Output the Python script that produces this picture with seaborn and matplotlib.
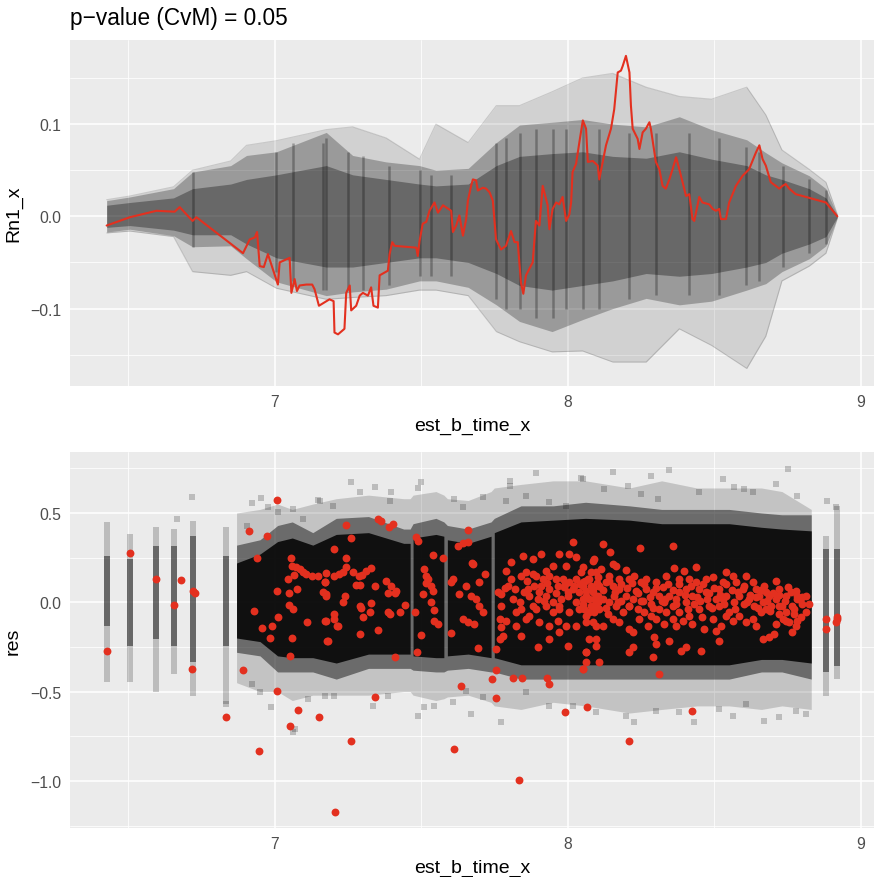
import numpy as np
import pandas as pd
import matplotlib
matplotlib.use("Agg")
import matplotlib.pyplot as plt
import seaborn as sns

# ---------------- observed cumulative residual process (top panel) ----------------
rn_time = [6.427, 6.506, 6.597, 6.659, 6.676, 6.720, 6.733, 6.892, 6.915, 6.932, 6.940, 6.949,
           6.963, 6.977, 7.011, 7.017, 7.051, 7.057, 7.068, 7.076, 7.085, 7.108, 7.128, 7.136,
           7.151, 7.187, 7.201, 7.204, 7.216, 7.238, 7.244, 7.256, 7.261, 7.278, 7.290, 7.301,
           7.318, 7.329, 7.337, 7.352, 7.358, 7.375, 7.386, 7.392, 7.401, 7.409, 7.483, 7.488,
           7.494, 7.505, 7.517, 7.528, 7.545, 7.557, 7.574, 7.602, 7.608, 7.619, 7.630, 7.642,
           7.653, 7.659, 7.670, 7.676, 7.687, 7.693, 7.710, 7.721, 7.733, 7.744, 7.755, 7.772,
           7.789, 7.806, 7.818, 7.829, 7.840, 7.848, 7.857, 7.880, 7.891, 7.903, 7.914, 7.931,
           7.937, 7.948, 7.960, 7.971, 7.982, 7.994, 8.005, 8.011, 8.016, 8.028, 8.039, 8.051,
           8.062, 8.068, 8.085, 8.102, 8.107, 8.119, 8.130, 8.147, 8.158, 8.170, 8.181, 8.187,
           8.198, 8.210, 8.215, 8.221, 8.238, 8.244, 8.255, 8.266, 8.278, 8.283, 8.300, 8.312,
           8.323, 8.334, 8.346, 8.357, 8.369, 8.380, 8.391, 8.403, 8.414, 8.425, 8.431, 8.448,
           8.459, 8.482, 8.494, 8.505, 8.516, 8.522, 8.539, 8.550, 8.573, 8.596, 8.618, 8.641,
           8.653, 8.664, 8.675, 8.692, 8.709, 8.721, 8.732, 8.743, 8.755, 8.777, 8.812, 8.880,
           8.919]
rn_value = [-0.010, -0.001, 0.006, 0.005, 0.010, -0.005, -0.001, -0.040, -0.025, -0.023, -0.017, -0.054,
            -0.055, -0.041, -0.074, -0.050, -0.045, -0.083, -0.068, -0.081, -0.075, -0.074, -0.074, -0.079,
            -0.097, -0.090, -0.092, -0.126, -0.128, -0.122, -0.083, -0.075, -0.102, -0.097, -0.086, -0.083,
            -0.086, -0.077, -0.097, -0.099, -0.064, -0.061, -0.059, -0.041, -0.028, -0.032, -0.034, -0.043,
            -0.027, -0.008, -0.006, 0.006, 0.015, 0.004, 0.012, 0.006, -0.017, -0.010, 0.001, -0.021,
            -0.003, 0.017, 0.033, 0.040, 0.039, 0.028, 0.031, 0.030, 0.026, 0.017, -0.025, -0.036,
            -0.032, -0.016, -0.028, -0.028, -0.072, -0.084, -0.064, -0.050, -0.005, -0.010, 0.033, 0.012,
            -0.014, 0.008, 0.015, 0.013, 0.021, -0.005, 0.002, 0.015, 0.048, 0.057, 0.080, 0.104,
            0.095, 0.059, 0.060, 0.055, 0.040, 0.059, 0.077, 0.095, 0.116, 0.156, 0.158, 0.163,
            0.174, 0.156, 0.120, 0.095, 0.084, 0.073, 0.091, 0.095, 0.102, 0.095, 0.059, 0.051,
            0.033, 0.030, 0.040, 0.051, 0.064, 0.051, 0.037, 0.022, 0.024, -0.003, -0.005, 0.021,
            0.015, 0.013, 0.008, 0.006, 0.008, -0.003, -0.003, 0.015, 0.033, 0.044, 0.051, 0.069,
            0.077, 0.062, 0.055, 0.037, 0.033, 0.030, 0.033, 0.035, 0.030, 0.024, 0.021, 0.015,
            0.000]

# ---------------- spread of the simulated processes (top panel) ----------------
sim_time = [6.427, 6.506, 6.655, 6.720, 6.850, 6.904, 7.006, 7.176, 7.266, 7.380, 7.494, 7.550,
            7.660, 7.756, 7.835, 7.946, 8.050, 8.153, 8.267, 8.380, 8.490, 8.610, 8.675, 8.730,
            8.823, 8.880, 8.919]
sim_outer_hi = [0.018, 0.022, 0.032, 0.050, 0.060, 0.077, 0.082, 0.094, 0.097, 0.085, 0.062, 0.100,
                0.080, 0.120, 0.120, 0.135, 0.150, 0.155, 0.140, 0.130, 0.127, 0.140, 0.110, 0.072,
                0.051, 0.037, 0.002]
sim_outer_lo = [-0.018, -0.016, -0.022, -0.060, -0.064, -0.060, -0.078, -0.090, -0.088, -0.086, -0.080, -0.080,
                -0.086, -0.125, -0.136, -0.147, -0.146, -0.158, -0.158, -0.122, -0.140, -0.165, -0.130, -0.070,
                -0.054, -0.040, -0.002]
sim_core_hi = [0.017, 0.021, 0.030, 0.048, 0.055, 0.066, 0.070, 0.091, 0.066, 0.059, 0.055, 0.050,
               0.052, 0.080, 0.099, 0.102, 0.105, 0.100, 0.097, 0.108, 0.094, 0.083, 0.069, 0.058,
               0.044, 0.030, 0.001]
sim_core_lo = [-0.017, -0.014, -0.021, -0.033, -0.032, -0.046, -0.071, -0.086, -0.082, -0.079, -0.070, -0.070,
               -0.077, -0.096, -0.114, -0.125, -0.112, -0.100, -0.089, -0.096, -0.092, -0.080, -0.073, -0.060,
               -0.046, -0.032, -0.001]
sim_inner_hi = [0.012, 0.015, 0.020, 0.030, 0.035, 0.040, 0.045, 0.055, 0.045, 0.040, 0.035, 0.033,
                0.035, 0.055, 0.065, 0.068, 0.070, 0.065, 0.063, 0.070, 0.062, 0.055, 0.045, 0.040,
                0.030, 0.020, 0.0005]
sim_inner_lo = [-0.012, -0.010, -0.015, -0.020, -0.020, -0.030, -0.045, -0.055, -0.055, -0.050, -0.045, -0.045,
                -0.050, -0.062, -0.075, -0.080, -0.075, -0.070, -0.062, -0.065, -0.062, -0.055, -0.050, -0.040,
                -0.030, -0.022, -0.0005]
# tied event times where many simulated paths jump together
jump_time = [6.722, 7.006, 7.063, 7.165, 7.176, 7.250, 7.300, 7.390, 7.494, 7.534, 7.600, 7.755,
             7.790, 7.835, 7.891, 7.948, 7.994, 8.050, 8.107, 8.210, 8.300, 8.414, 8.516, 8.607,
             8.653, 8.732, 8.823, 8.880]
jump_hi = [0.048, 0.070, 0.080, 0.080, 0.085, 0.070, 0.065, 0.055, 0.050, 0.045, 0.045, 0.080,
           0.085, 0.090, 0.095, 0.095, 0.095, 0.100, 0.095, 0.090, 0.090, 0.090, 0.085, 0.075,
           0.070, 0.055, 0.040, 0.028]
jump_lo = [-0.033, -0.060, -0.070, -0.080, -0.080, -0.080, -0.080, -0.075, -0.065, -0.065, -0.065, -0.090,
           -0.100, -0.100, -0.110, -0.110, -0.100, -0.100, -0.100, -0.090, -0.085, -0.085, -0.085, -0.075,
           -0.070, -0.055, -0.040, -0.030]

# ---------------- observed residuals (bottom panel) ----------------
res_time = [6.427, 6.508, 6.595, 6.655, 6.679, 6.722, 6.727, 6.718, 6.835, 6.892, 6.912, 6.940,
            6.928, 6.947, 6.957, 6.974, 6.985, 6.990, 7.009, 7.009, 7.011, 7.009, 7.044, 7.049,
            7.051, 7.049, 7.056, 7.060, 7.062, 7.060, 7.065, 7.076, 7.081, 7.051, 7.074, 7.085,
            7.097, 7.108, 7.110, 7.128, 7.148, 7.150, 7.172, 7.173, 7.176, 7.165, 7.176, 7.179,
            7.206, 7.204, 7.204, 7.204, 7.201, 7.212,
            7.261, 7.341, 7.611, 7.833, 7.991, 8.065, 7.634, 7.742, 7.755, 7.814, 7.844, 7.928,
            7.937, 7.412, 7.485, 7.693, 7.755, 7.755,
            7.244, 7.261, 7.352, 7.363, 7.390, 7.403, 7.483, 7.488, 7.540, 7.574, 7.625, 7.644,
            7.659, 7.661, 7.673, 7.244,
            7.170, 7.176, 7.221, 7.233, 7.244, 7.267, 7.287, 7.299, 7.312, 7.329, 7.278, 7.290,
            7.341, 7.380, 7.397, 7.386, 7.409, 7.415, 7.174, 7.216, 7.182, 7.239, 7.233, 7.290,
            7.295, 7.301, 7.324, 7.329, 7.352, 7.386, 7.392, 7.426, 7.443, 7.292,
            7.477, 7.500, 7.505, 7.508, 7.517, 7.522, 7.517, 7.534, 7.540, 7.534, 7.545, 7.545,
            7.557, 7.602, 7.602, 7.608, 7.630, 7.642, 7.659, 7.681, 7.670, 7.687, 7.698, 7.710,
            7.716, 7.698, 7.676, 7.653, 7.772, 7.761, 7.772, 7.767, 7.772, 7.767, 7.778, 7.784,
            7.795, 7.789, 7.806, 7.806, 7.812, 7.823, 7.835, 7.846, 7.840, 7.852, 7.857, 7.840,
            7.880, 7.886, 7.897, 7.903, 7.897,
            8.016, 7.971, 8.005, 8.028, 7.909, 7.880, 7.948, 7.926, 7.994, 8.051, 8.085, 7.857,
            7.891, 7.914, 7.937, 7.960, 7.982, 8.005, 8.028, 8.051, 8.073, 8.096, 7.818, 7.863,
            7.909, 7.937, 7.965, 7.988, 8.016, 8.039, 8.062, 8.085, 8.107, 7.869, 7.926, 7.948,
            7.977, 7.999, 8.028, 8.051, 8.079, 8.102, 7.840, 7.869, 7.891, 7.926, 7.948, 7.971,
            8.005, 8.039, 8.062, 8.090, 7.789, 7.823, 7.937, 7.965, 7.994, 8.028, 8.062, 8.096,
            7.937, 7.971, 8.000, 8.062, 8.073, 8.051, 8.062, 8.096,
            8.119, 8.144, 8.246, 8.357, 8.090, 8.153, 8.164, 8.079, 8.113, 8.198, 8.210, 8.363,
            8.397, 8.437, 8.414, 8.494, 8.539, 8.562, 8.607, 8.630, 8.670, 8.709, 8.749, 8.777,
            8.812, 8.823, 8.789, 8.766, 8.743, 8.732, 8.755, 8.777, 8.795, 8.721, 8.692, 8.687,
            8.653, 8.618, 8.584, 8.567, 8.539, 8.516, 8.505, 8.471, 8.448, 8.425, 8.403, 8.380,
            8.369, 8.346, 8.323, 8.312, 8.289, 8.266, 8.249, 8.232, 8.221, 8.198, 8.176, 8.153,
            8.130, 8.107, 8.085, 8.062, 8.051, 8.045, 8.056, 8.073, 8.090, 8.119, 8.141, 8.164,
            8.187, 8.210, 8.238, 8.261, 8.283, 8.312, 8.334, 8.357, 8.380, 8.414, 8.448, 8.482,
            8.516, 8.550, 8.584, 8.630, 8.658, 8.675, 8.709, 8.085, 8.119, 8.153, 8.176, 8.210,
            8.221, 8.244, 8.272, 8.300, 8.329, 8.369, 8.391, 8.425, 8.465, 8.494, 8.522, 8.505,
            8.539, 8.607, 8.641, 8.664, 8.687, 8.704, 8.709, 8.783, 8.743, 8.062, 8.096, 8.107,
            8.051, 8.210, 8.221, 8.295, 8.300, 8.289, 8.346, 8.386, 8.403, 8.454, 8.516, 8.312,
            8.425, 8.210,
            8.068, 8.102, 8.141, 8.176, 8.226, 8.266, 8.300, 8.334, 8.380, 8.437, 8.471, 8.528,
            8.573, 8.596, 8.641, 8.675, 8.721, 8.743, 8.783, 8.800, 8.073, 8.102, 8.158, 8.181,
            8.255, 8.283, 8.329, 8.403, 8.431, 8.476, 8.533, 8.601, 8.635, 8.664, 8.721, 8.772,
            8.812, 8.766, 8.562, 8.459, 8.357, 8.136, 8.107,
            8.040, 8.060, 8.080, 8.100, 8.120, 8.140, 8.160, 8.180, 8.200, 8.220, 8.240, 8.260,
            8.280, 8.300, 8.320, 8.340, 8.360, 8.380, 8.400, 8.420, 8.440, 8.460, 8.480, 8.500,
            8.520, 8.540, 8.560, 8.580, 8.600, 8.620, 8.640, 8.660, 8.680, 8.700, 8.720, 8.740,
            8.760, 8.780, 8.800,
            8.050, 8.090, 8.130, 8.170, 8.210, 8.250, 8.290, 8.330, 8.370, 8.410, 8.450, 8.490,
            8.530, 8.570, 8.610, 8.650, 8.690, 8.730, 8.770,
            7.860, 7.900, 7.930, 7.960, 7.990, 7.880, 7.920, 7.970, 8.000, 8.020,
            8.880, 8.880, 8.919, 8.919, 8.913]
res_value = [-0.273, 0.274, 0.131, -0.013, 0.125, 0.065, 0.052, -0.373, -0.640, -0.379, 0.399, 0.250,
             -0.051, -0.834, -0.144, 0.369, -0.202, -0.131, 0.573, 0.062, -0.080, -0.498, 0.131, 0.052,
             -0.691, -0.015, 0.248, 0.205, -0.037, -0.202, 0.153, 0.075, -0.601, -0.303, 0.196, 0.187,
             0.168, 0.159, -0.108, 0.149, 0.149, -0.640, 0.116, -0.107, 0.164, 0.056, 0.037, -0.217,
             -1.176, 0.297, 0.149, -0.093, -0.065, -0.131,
             -0.778, -0.532, -0.821, -0.995, -0.612, -0.588, -0.467, -0.429, -0.538, -0.424, -0.424, -0.424,
             -0.457, -0.308, -0.276, -0.258, -0.262, -0.379,
             0.433, 0.358, 0.466, 0.453, 0.420, 0.437, 0.364, 0.345, 0.267, 0.248, 0.317, 0.332,
             0.336, 0.407, 0.220, 0.248,
             0.112, 0.047, 0.159, 0.168, 0.196, 0.168, 0.145, 0.153, 0.177, 0.192, 0.097, 0.097,
             0.093, 0.121, 0.093, 0.052, 0.052, 0.065, -0.103, -0.131, -0.215, 0.037, 0.004, -0.022,
             -0.034, -0.084, -0.056, -0.004, -0.153, -0.053, -0.065, -0.056, -0.015, -0.177,
             -0.056, -0.183, 0.047, 0.186, 0.149, 0.131, 0.108, 0.093, 0.065, 0.000, -0.041, -0.103,
             -0.121, -0.172, 0.112, 0.131, 0.047, -0.093, -0.108, -0.121, 0.037, 0.019, -0.019, -0.056,
             0.159, 0.112, 0.215, 0.093, 0.047, 0.056, -0.019, -0.093, -0.140, -0.205, -0.187, 0.078,
             0.093, 0.177, 0.224, 0.131, 0.019, -0.056, 0.000, 0.261, 0.149, 0.056, -0.093, -0.187,
             0.159, 0.093, 0.019, -0.112, -0.252,
             0.336, 0.271, 0.271, 0.252, 0.271, 0.243, 0.205, 0.177, 0.205, 0.196, 0.233, 0.168,
             0.149, 0.131, 0.149, 0.131, 0.131, 0.112, 0.131, 0.112, 0.131, 0.168, 0.075, 0.075,
             0.093, 0.075, 0.093, 0.084, 0.075, 0.056, 0.065, 0.075, 0.093, 0.037, 0.037, 0.000,
             0.019, 0.037, 0.000, 0.019, -0.019, 0.000, -0.037, -0.075, -0.037, -0.019, -0.056, -0.037,
             -0.056, -0.037, -0.075, -0.056, -0.103, -0.131, -0.131, -0.103, -0.131, -0.131, -0.112, -0.131,
             -0.205, -0.168, -0.243, -0.280, -0.205, -0.373, -0.336, -0.205,
             0.327, 0.284, 0.303, 0.317, 0.243, 0.214, 0.205, 0.168, 0.186, 0.181, 0.131, 0.190,
             0.177, 0.196, 0.131, 0.140, 0.168, 0.149, 0.149, 0.112, 0.093, 0.121, 0.084, 0.065,
             0.037, -0.009, 0.019, -0.019, -0.056, -0.093, -0.108, -0.131, -0.084, -0.019, -0.019, 0.037,
             0.037, 0.019, 0.037, 0.000, 0.037, 0.075, 0.019, 0.056, 0.075, 0.037, 0.075, 0.056,
             0.019, 0.037, 0.084, 0.037, 0.056, 0.075, 0.112, 0.065, 0.019, 0.037, 0.075, 0.093,
             0.112, 0.093, 0.056, 0.037, 0.093, 0.168, -0.037, -0.056, -0.019, 0.019, 0.000, -0.019,
             -0.056, -0.019, -0.037, -0.056, -0.075, -0.037, -0.056, -0.019, -0.056, -0.075, -0.037, -0.019,
             -0.019, -0.056, -0.075, -0.093, -0.056, -0.037, 0.019, -0.112, -0.131, -0.093, -0.112, -0.149,
             -0.168, -0.093, -0.131, -0.093, -0.121, -0.131, -0.103, -0.121, -0.149, -0.093, -0.131, -0.159,
             -0.075, -0.112, -0.131, -0.205, -0.196, -0.177, -0.121, -0.103, -0.103, -0.280, -0.243, -0.336,
             -0.373, -0.280, -0.252, -0.196, -0.233, -0.308, -0.215, -0.271, -0.252, -0.271, -0.215, -0.401,
             -0.607, -0.775,
             0.131, 0.140, 0.149, 0.131, 0.149, 0.131, 0.112, 0.149, 0.131, 0.112, 0.131, 0.112,
             0.112, 0.075, 0.075, 0.056, 0.075, 0.037, 0.037, -0.009, 0.019, 0.037, 0.037, 0.009,
             0.009, -0.009, 0.000, 0.000, -0.009, 0.019, -0.009, -0.009, -0.019, 0.000, -0.065, -0.065,
             -0.056, -0.168, -0.103, -0.084, -0.093, -0.065, -0.037,
             0.100, 0.120, 0.090, 0.110, 0.070, 0.120, 0.060, 0.100, 0.080, 0.110, 0.050, 0.100,
             0.030, 0.080, 0.010, 0.100, 0.070, 0.100, 0.040, 0.090, 0.030, 0.100, 0.050, 0.080,
             0.040, 0.100, 0.070, 0.060, 0.090, 0.040, 0.030, 0.070, 0.010, 0.050, 0.040, 0.010,
             0.060, 0.020, 0.030,
             -0.010, 0.020, -0.030, 0.000, -0.020, 0.010, -0.030, 0.020, -0.010, -0.040, 0.010, -0.030,
             0.020, -0.040, 0.000, -0.030, -0.050, -0.020, -0.040,
             0.120, 0.060, 0.110, 0.050, 0.100, -0.020, 0.010, -0.020, 0.060, 0.090,
             -0.093, -0.149, -0.093, -0.084, -0.112]

# ---------------- residuals of the simulated fits (bottom panel) ----------------
# isolated observation times: extent of the residual column and of its dense part
col_time = [6.427, 6.508, 6.595, 6.655, 6.722, 6.835, 8.880, 8.919]
col_lo = [-0.448, -0.448, -0.504, -0.400, -0.522, -0.570, -0.523, -0.428]
col_hi = [0.448, 0.382, 0.420, 0.410, 0.457, 0.420, 0.373, 0.541]
col_core_lo = [-0.130, -0.243, -0.205, -0.243, -0.336, -0.243, -0.392, -0.355]
col_core_hi = [0.261, 0.243, 0.317, 0.317, 0.373, 0.261, 0.299, 0.299]

# densely observed period, split into blocks separated by sparsely observed times
cloud_time = [6.87, 6.95, 7.01, 7.06, 7.13, 7.21, 7.32, 7.44, 7.462,
              7.472, 7.55, 7.577,
              7.589, 7.66, 7.738,
              7.749, 7.84, 7.95, 8.06, 8.21, 8.32, 8.44, 8.55, 8.66, 8.73, 8.83]
cloud_block = [0, 0, 0, 0, 0, 0, 0, 0, 0,
               1, 1, 1,
               2, 2, 2,
               3, 3, 3, 3, 3, 3, 3, 3, 3, 3, 3]
cloud_fringe_hi = [0.50, 0.52, 0.55, 0.52, 0.55, 0.58, 0.60, 0.58, 0.58,
                   0.60, 0.62, 0.60,
                   0.58, 0.57, 0.62,
                   0.64, 0.66, 0.68, 0.68, 0.64, 0.68, 0.64, 0.64, 0.64, 0.62, 0.52]
cloud_fringe_lo = [-0.45, -0.50, -0.50, -0.55, -0.52, -0.52, -0.52, -0.50, -0.50,
                   -0.52, -0.55, -0.54,
                   -0.53, -0.52, -0.56,
                   -0.58, -0.60, -0.56, -0.58, -0.62, -0.60, -0.58, -0.58, -0.60, -0.58, -0.60]
cloud_mid_hi = [0.32, 0.35, 0.43, 0.45, 0.39, 0.47, 0.48, 0.41, 0.41,
                0.44, 0.47, 0.45,
                0.43, 0.41, 0.45,
                0.47, 0.54, 0.54, 0.56, 0.54, 0.52, 0.52, 0.52, 0.50, 0.49, 0.49]
cloud_mid_lo = [-0.28, -0.30, -0.39, -0.39, -0.39, -0.43, -0.37, -0.37, -0.37,
                -0.38, -0.39, -0.39,
                -0.38, -0.37, -0.39,
                -0.39, -0.43, -0.43, -0.43, -0.43, -0.43, -0.43, -0.43, -0.39, -0.39, -0.43]
cloud_core_hi = [0.22, 0.27, 0.34, 0.36, 0.32, 0.38, 0.39, 0.33, 0.33,
                 0.36, 0.38, 0.37,
                 0.35, 0.33, 0.37,
                 0.39, 0.45, 0.46, 0.47, 0.46, 0.44, 0.44, 0.44, 0.42, 0.41, 0.40]
cloud_core_lo = [-0.20, -0.22, -0.30, -0.31, -0.31, -0.34, -0.29, -0.29, -0.29,
                 -0.30, -0.31, -0.31,
                 -0.30, -0.29, -0.31,
                 -0.31, -0.35, -0.35, -0.35, -0.35, -0.35, -0.35, -0.35, -0.32, -0.32, -0.34]

# isolated simulated residuals outside the dense band
stray_time = [7.261, 7.290, 7.341, 7.397, 7.488, 7.500, 7.710, 7.801, 7.801, 7.892, 8.045, 7.392,
              7.613, 7.642, 7.789, 7.857, 7.937, 7.994, 7.153, 7.204, 7.335, 7.386, 7.488, 7.511,
              7.545, 7.670, 7.710, 7.772, 7.937, 8.016, 7.857, 7.608, 7.653,
              8.153, 8.346, 8.749, 8.051, 8.124, 8.283, 8.204, 8.249, 8.306, 8.448, 8.528, 8.567,
              8.601, 8.630, 8.709, 8.783, 8.885, 8.914, 8.096, 8.198, 8.226, 8.300, 8.380, 8.431,
              8.516, 8.562, 8.670, 8.721, 8.777, 8.812, 8.607,
              6.718, 6.667, 6.904, 6.921, 6.955, 6.977, 7.011, 7.062, 7.097, 7.148, 7.199, 6.986,
              7.062, 7.068, 6.949, 6.921, 7.114, 7.170, 6.835]
stray_value = [0.675, 0.620, 0.644, 0.620, 0.638, 0.672, 0.588, 0.681, 0.653, 0.724, 0.694, 0.569,
               0.578, 0.532, 0.569, 0.597, 0.560, 0.541, 0.569, -0.523, -0.579, -0.523, -0.635, -0.588,
               -0.579, -0.625, -0.532, -0.672, -0.579, -0.579, -0.504, -0.560, -0.495,
               0.731, 0.743, 0.746, 0.690, 0.634, 0.709, 0.653, 0.607, 0.578, 0.620, 0.690, 0.644,
               0.634, 0.616, 0.662, 0.597, 0.569, 0.532, -0.616, -0.635, -0.672, -0.607, -0.616, -0.668,
               -0.597, -0.635, -0.663, -0.644, -0.607, -0.625, -0.569,
               0.588, 0.466, 0.429, 0.554, 0.582, 0.532, 0.504, 0.522, 0.466, 0.573, 0.541, -0.584,
               -0.724, -0.709, -0.504, -0.457, -0.541, -0.523, -0.569]

title_text = "p\u2212value (CvM) = 0.05"
x_ticks = [7, 8, 9]
top_y_ticks = [-0.1, 0.0, 0.1]
bottom_y_ticks = [-1.0, -0.5, 0.0, 0.5]

RED = "#E3301F"
PANEL = "#EBEBEB"

sns.set_theme(style="darkgrid", rc={
    "axes.facecolor": PANEL,
    "figure.facecolor": "white",
    "grid.color": "white",
    "grid.linewidth": 1.1,
    "axes.edgecolor": PANEL,
})
plt.rcParams["font.family"] = ["Liberation Sans", "DejaVu Sans"]
plt.rcParams["axes.unicode_minus"] = True

W, H = 876, 878
fig = plt.figure(figsize=(W / 100, H / 100), dpi=100)
ax1 = fig.add_axes([70 / W, 1 - 387 / H, (874 - 70) / W, (387 - 41) / H])
ax2 = fig.add_axes([70 / W, 1 - 829 / H, (874 - 70) / W, (829 - 453) / H])


def style_axis(ax, yticks, yminor, ylim, ylabel):
    ax.set_xlim(6.302, 9.044)
    ax.set_ylim(*ylim)
    ax.set_xticks(x_ticks)
    ax.set_xticks([6.5, 7.5, 8.5], minor=True)
    ax.set_yticks(yticks)
    ax.set_yticks(yminor, minor=True)
    ax.set_xticklabels([str(t) for t in x_ticks])
    ax.set_yticklabels([f"{t:.1f}".replace("-", "\u2212") for t in yticks])
    ax.grid(which="major", color="white", linewidth=1.1)
    ax.grid(which="minor", color="white", linewidth=0.55)
    ax.tick_params(which="major", length=3.6, width=1.0, color="#333333",
                   labelsize=11.3, labelcolor="#4D4D4D", pad=2.5)
    ax.tick_params(which="minor", length=0)
    for s in ax.spines.values():
        s.set_visible(False)
    ax.set_xlabel("est_b_time_x", fontsize=14, color="black", labelpad=5)
    ax.set_ylabel(ylabel, fontsize=14, color="black", labelpad=6)
    ax.set_axisbelow(True)


# ---- top panel: simulated processes and the observed one ----
ax1.fill_between(sim_time, sim_outer_lo, sim_outer_hi, color="black", alpha=0.11, linewidth=0)
ax1.fill_between(sim_time, sim_core_lo, sim_core_hi, color="black", alpha=0.26, linewidth=0)
ax1.fill_between(sim_time, sim_inner_lo, sim_inner_hi, color="black", alpha=0.32, linewidth=0)
for edge in (sim_outer_hi, sim_outer_lo):
    ax1.plot(sim_time, edge, color="black", alpha=0.15, linewidth=0.8)
ax1.vlines(jump_time, jump_lo, jump_hi, color="black", alpha=0.28, linewidth=1.8)
sns.lineplot(data=pd.DataFrame({"t": rn_time, "v": rn_value}), x="t", y="v",
             sort=False, estimator=None, color=RED, linewidth=1.5, ax=ax1, zorder=5)
style_axis(ax1, top_y_ticks, [-0.15, -0.05, 0.05, 0.15], (-0.184, 0.1912), "Rn1_x")

# ---- bottom panel: simulated residuals and the observed ones ----
cloud = pd.DataFrame({"t": cloud_time, "block": cloud_block,
                      "f_lo": cloud_fringe_lo, "f_hi": cloud_fringe_hi,
                      "m_lo": cloud_mid_lo, "m_hi": cloud_mid_hi,
                      "c_lo": cloud_core_lo, "c_hi": cloud_core_hi})
ax2.fill_between(cloud["t"], cloud["f_lo"], cloud["f_hi"], color="black", alpha=0.17, linewidth=0)
ax2.fill_between(cloud["t"], cloud["m_lo"], cloud["m_hi"], color="black", alpha=0.45, linewidth=0)
for _, part in cloud.groupby("block"):
    ax2.fill_between(part["t"], part["c_lo"], part["c_hi"], color="black", alpha=0.85, linewidth=0)
ax2.vlines(col_time, col_lo, col_hi, color="black", alpha=0.2, linewidth=4.3)
ax2.vlines(col_time, col_core_lo, col_core_hi, color="black", alpha=0.45, linewidth=4.3)
sns.scatterplot(data=pd.DataFrame({"t": stray_time, "v": stray_value}), x="t", y="v",
                marker="s", s=18, color="black", alpha=0.2, linewidth=0, ax=ax2)
sns.scatterplot(data=pd.DataFrame({"t": res_time, "v": res_value}), x="t", y="v",
                marker="o", s=32, color=RED, linewidth=0, ax=ax2, zorder=5)
style_axis(ax2, bottom_y_ticks, [-1.25, -0.75, -0.25, 0.25, 0.75], (-1.2637, 0.8415), "res")

fig.text(70 / W, 1 - 19 / H, title_text, fontsize=16.3, ha="left", va="center", color="black")

fig.savefig("out.png", dpi=100)
